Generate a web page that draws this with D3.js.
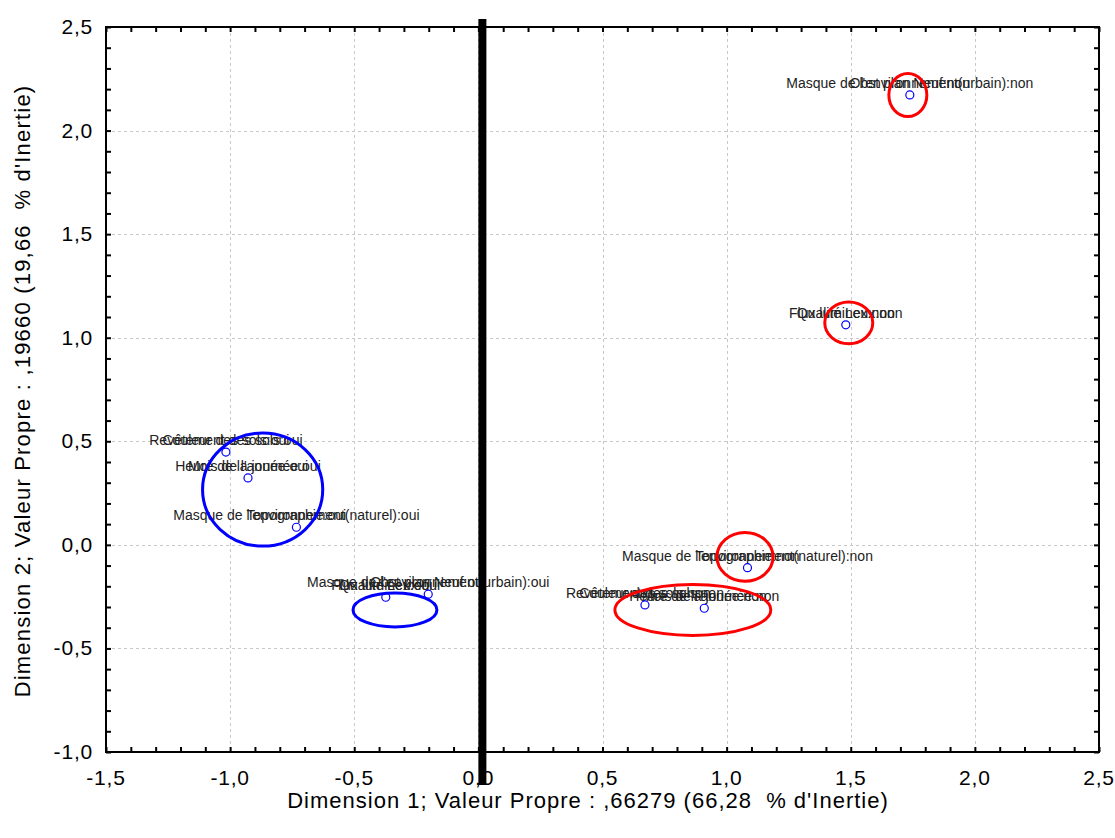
<!DOCTYPE html>
<html><head><meta charset="utf-8">
<script src="https://cdn.jsdelivr.net/npm/d3@7"></script>
<style>body{margin:0;background:#fff} text{white-space:pre}</style></head>
<body><svg id="c" width="1115" height="838"></svg>
<script>
// ---- data ----
const pointX = [1.738, 1.480, -1.017, -0.928, -0.733, -0.373, -0.202, 1.084, 0.671, 0.910];
const pointY = [2.172, 1.062, 0.448, 0.323, 0.085, -0.253, -0.238, -0.110, -0.290, -0.306];
const labelA = ["Masque de l'environnement(urbain):non", "Flux lumineux:non", "Revêtement des sols:oui",
  "Heure de la journée:oui", "Masque de l'environnement(naturel):oui", "Flux lumineux:oui",
  "Masque de l'environnement(urbain):oui", "Masque de l'environnement(naturel):non",
  "Revêtement des sols:non", "Heure de la journée:non"];
const labelB = ["Obst plan Neuf:non", "Qualité Lex:non", "Couleur des sols:oui", "Mois de l'année:oui",
  "Topographie:oui", "Qualité Lex:oui", "Obst plan Neuf:oui", "Topographie:non",
  "Couleur des sols:non", "Mois de l'année:non"];

const ellipseX = [1.730, 1.492, -0.869, -0.336, 0.864, 1.074];
const ellipseY = [2.172, 1.072, 0.267, -0.314, -0.314, -0.058];
const ellipseRX = [0.0765, 0.0967, 0.242, 0.169, 0.314, 0.113];
const ellipseRY = [0.104, 0.101, 0.273, 0.082, 0.123, 0.118];
const ellipseColor = ["#ff0000", "#ff0000", "#0000ff", "#0000ff", "#ff0000", "#ff0000"];

const xTickValues = [-1.5, -1.0, -0.5, 0.0, 0.5, 1.0, 1.5, 2.0, 2.5];
const xTickLabels = ["-1,5", "-1,0", "-0,5", "0,0", "0,5", "1,0", "1,5", "2,0", "2,5"];
const yTickValues = [-1.0, -0.5, 0.0, 0.5, 1.0, 1.5, 2.0, 2.5];
const yTickLabels = ["-1,0", "-0,5", "0,0", "0,5", "1,0", "1,5", "2,0", "2,5"];
const xTitle = "Dimension 1; Valeur Propre : ,66279 (66,28  % d'Inertie)";
const yTitle = "Dimension 2; Valeur Propre : ,19660 (19,66  % d'Inertie)";

// ---- layout ----
const L = 106, R = 1099, T = 27, B = 752;
const svg = d3.select("#c");
const x = d3.scaleLinear().domain([-1.5, 2.5]).range([L, R]);
const y = d3.scaleLinear().domain([-1.0, 2.5]).range([B, T]);
const font = "Arial, 'Liberation Sans', sans-serif";

// gridlines
const grid = svg.append("g").attr("stroke", "#c8c8c8").attr("stroke-width", 1).attr("stroke-dasharray", "3,3");
grid.selectAll("line.gx").data(xTickValues.slice(1, -1)).join("line")
  .attr("x1", d => Math.round(x(d)) + 0.5).attr("x2", d => Math.round(x(d)) + 0.5).attr("y1", T).attr("y2", B);
grid.selectAll("line.gy").data(yTickValues.slice(1, -1)).join("line")
  .attr("y1", d => Math.round(y(d)) + 0.5).attr("y2", d => Math.round(y(d)) + 0.5).attr("x1", L).attr("x2", R);

// minor/major ticks, inward
const xMinor = d3.range(-15, 26).map(d => d / 10);
const yMinor = d3.range(-10, 26).map(d => d / 10);
function styleAxis(g) {
  g.select(".domain").remove();
  g.selectAll(".tick line").attr("stroke", "#000").attr("stroke-width", 2);
  g.selectAll("text").remove();
}
svg.append("g").attr("transform", `translate(0,${B})`).call(d3.axisBottom(x).tickValues(xMinor).tickSize(-5)).call(styleAxis);
svg.append("g").attr("transform", `translate(0,${T})`).call(d3.axisTop(x).tickValues(xMinor).tickSize(-5)).call(styleAxis);
svg.append("g").attr("transform", `translate(${L},0)`).call(d3.axisLeft(y).tickValues(yMinor).tickSize(-5)).call(styleAxis);
svg.append("g").attr("transform", `translate(${R},0)`).call(d3.axisRight(y).tickValues(yMinor).tickSize(-5)).call(styleAxis);

// frame
svg.append("rect").attr("x", L).attr("y", T).attr("width", R - L).attr("height", B - T)
  .attr("fill", "none").attr("stroke", "#000").attr("stroke-width", 2);

// tick labels
svg.append("g").selectAll("text").data(xTickValues).join("text")
  .attr("x", d => x(d)).attr("y", B + 33).attr("text-anchor", "middle")
  .attr("font-family", font).attr("font-size", 21).attr("letter-spacing", 0.8).attr("fill", "#000")
  .text((d, i) => xTickLabels[i]);
svg.append("g").selectAll("text").data(yTickValues).join("text")
  .attr("x", L - 13).attr("y", d => y(d) + 7).attr("text-anchor", "end")
  .attr("font-family", font).attr("font-size", 21).attr("letter-spacing", 0.8).attr("fill", "#000")
  .text((d, i) => yTickLabels[i]);

// axis titles
svg.append("text").attr("x", 588).attr("y", 808).attr("text-anchor", "middle")
  .attr("font-family", font).attr("font-size", 22).attr("letter-spacing", 1.0).attr("fill", "#000").text(xTitle);
svg.append("text").attr("transform", `translate(30,${391}) rotate(-90)`).attr("text-anchor", "middle")
  .attr("font-family", font).attr("font-size", 22).attr("letter-spacing", 1.2).attr("fill", "#000").text(yTitle);

// labels
const lab = svg.append("g").attr("font-family", font).attr("font-size", 14).attr("fill", "#222").attr("text-anchor", "middle");
lab.selectAll("text.a").data(pointX).join("text").attr("class", "a")
  .attr("x", (d, i) => x(d)).attr("y", (d, i) => y(pointY[i]) - 7).text((d, i) => labelA[i]);
lab.selectAll("text.b").data(pointX).join("text").attr("class", "b")
  .attr("x", (d, i) => x(d)).attr("y", (d, i) => y(pointY[i]) - 7).text((d, i) => labelB[i]);

// points
svg.append("g").selectAll("circle").data(pointX).join("circle")
  .attr("cx", d => x(d)).attr("cy", (d, i) => y(pointY[i])).attr("r", 4)
  .attr("fill", "none").attr("stroke", "#0000ff").attr("stroke-width", 1.2);

// ellipses
svg.append("g").selectAll("ellipse").data(ellipseX).join("ellipse")
  .attr("cx", d => x(d)).attr("cy", (d, i) => y(ellipseY[i]))
  .attr("rx", (d, i) => x(ellipseRX[i]) - x(0)).attr("ry", (d, i) => y(0) - y(ellipseRY[i]))
  .attr("fill", "none").attr("stroke", (d, i) => ellipseColor[i]).attr("stroke-width", 3);

// thick vertical line at x = 0
svg.append("rect").attr("x", x(0)).attr("y", 19).attr("width", 8).attr("height", 785 - 19).attr("fill", "#000");
</script></body></html>
